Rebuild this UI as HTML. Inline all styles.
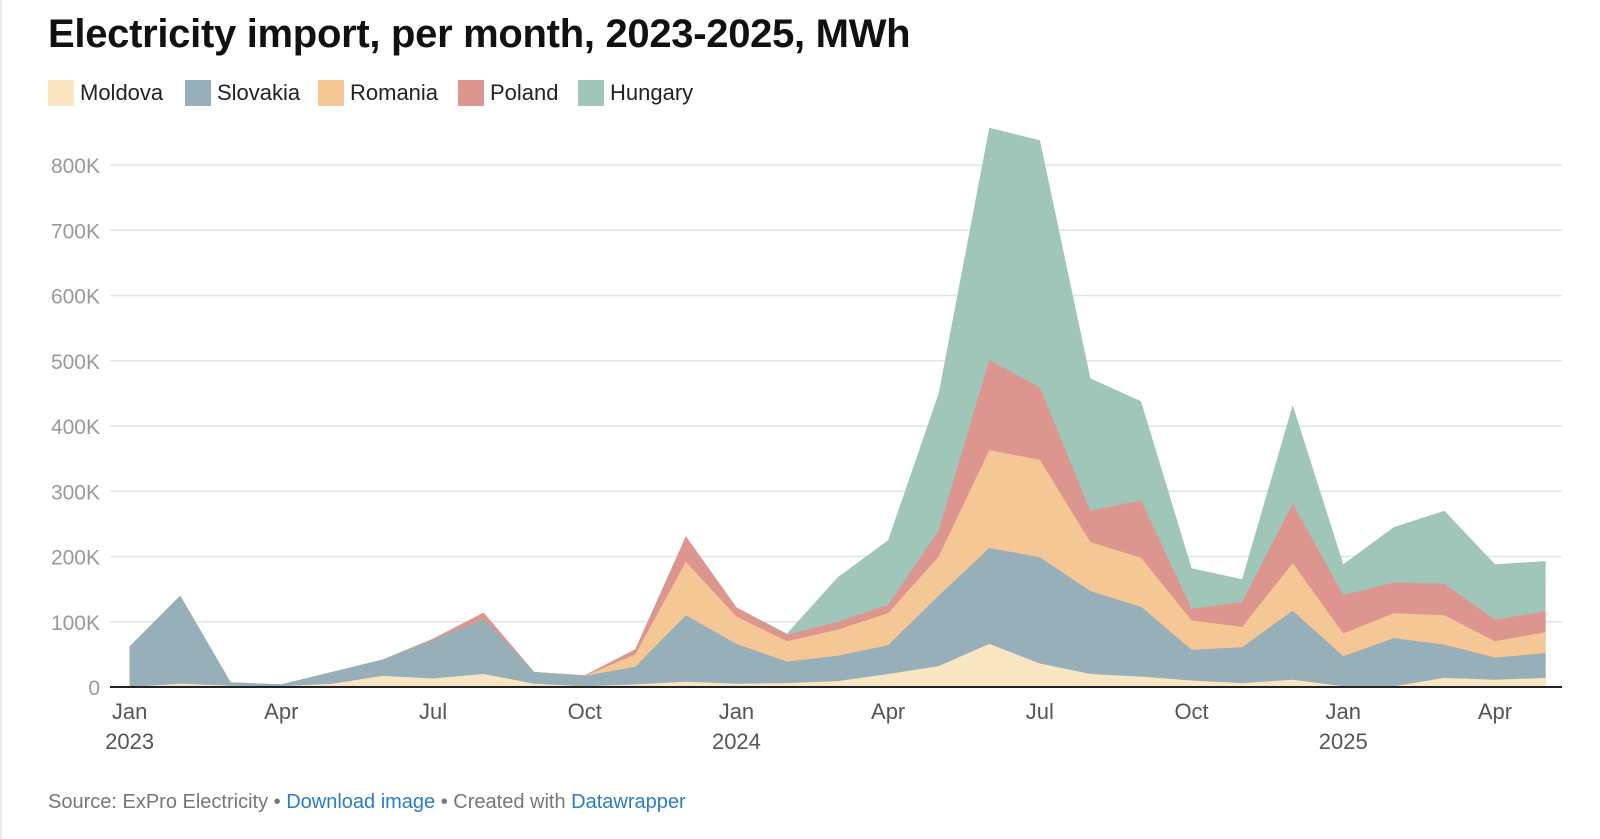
<!DOCTYPE html>
<html><head><meta charset="utf-8"><style>
html,body{margin:0;padding:0;background:#fff;width:1600px;height:839px;overflow:hidden}
svg{display:block;font-family:"Liberation Sans",Arial,sans-serif}
</style></head><body>
<svg id="s" width="1600" height="839" xmlns="http://www.w3.org/2000/svg">
<rect x="0" y="0" width="2" height="839" fill="#e8eef8"/>
<text x="48" y="47" font-size="40" font-weight="bold" fill="#111" letter-spacing="-0.3">Electricity import, per month, 2023-2025, MWh</text>
<g font-size="22" fill="#222">
<rect x="48" y="80" width="26" height="26" fill="#fae5c2"/><text x="80" y="100">Moldova</text>
<rect x="185" y="80" width="26" height="26" fill="#97afb9"/><text x="217" y="100">Slovakia</text>
<rect x="318" y="80" width="26" height="26" fill="#f4c795"/><text x="350" y="100">Romania</text>
<rect x="458" y="80" width="26" height="26" fill="#dc968f"/><text x="490" y="100">Poland</text>
<rect x="578" y="80" width="26" height="26" fill="#9fc6b8"/><text x="610" y="100">Hungary</text>
</g>
<g id="grid"></g>
<g id="areas"></g>
<line x1="110" x2="1562" y1="687" y2="687" stroke="#222" stroke-width="2"/>
<g id="xl" font-size="22" fill="#555" text-anchor="middle"></g>
<text x="48" y="808" font-size="20" fill="#777">Source: ExPro Electricity • <tspan fill="#2a7cc7">Download image</tspan> • Created with <tspan fill="#2a7cc7">Datawrapper</tspan></text>
</svg>
<script>
var NS="http://www.w3.org/2000/svg";
function el(t,a,p,txt){var e=document.createElementNS(NS,t);for(var k in a)e.setAttribute(k,a[k]);if(txt!=null)e.textContent=txt;p.appendChild(e);return e;}
function Y(v){return 687-v*0.6525;}
function X(i){return 129.6+i*50.57;}
var g=document.getElementById('grid');
for(var k=1;k<=8;k++){var y=Y(k*100);el('line',{x1:110,x2:1562,y1:y,y2:y,stroke:'#e3e3e3','stroke-width':1.5},g);
el('text',{x:100,y:y+8,'font-size':21,fill:'#999','text-anchor':'end'},g,k*100+'K');}
el('text',{x:100,y:695,'font-size':21,fill:'#999','text-anchor':'end'},g,'0');
var M=[0,5,2,1,5,17,13,20,5,1,4,8,5,6,9,20,32,66,36,20,16,10,6,11,1,1,14,11,14];
var S=[62,140,7,4,23,42,72,104,23,17,31,110,66,39,48,64,140,213,199,147,123,57,61,117,47,75,65,45,52];
var R=[62,140,7,4,23,42,72,104,23,17,50,192,108,70,88,113,200,363,348,222,198,102,92,190,82,113,110,70,84];
var P=[62,140,7,4,23,42,74,114,23,18,58,231,122,80,100,126,240,501,459,270,286,120,130,281,141,160,158,103,116];
var H=[62,140,7,4,23,42,74,114,23,18,58,231,122,82,168,225,450,857,838,473,438,182,165,432,188,245,270,188,193];
var layers=[[H,'#9fc6b8'],[P,'#dc968f'],[R,'#f4c795'],[S,'#97afb9'],[M,'#fae5c2']];
var a=document.getElementById('areas');
layers.forEach(function(l){var pts=[X(0)+','+687];l[0].forEach(function(v,i){pts.push(X(i).toFixed(1)+','+Y(v).toFixed(1));});pts.push(X(28)+','+687);
el('polygon',{points:pts.join(' '),fill:l[1]},a);});
var xl=document.getElementById('xl');
var labs=['Jan','Apr','Jul','Oct'];
for(var i=0;i<29;i+=3){var x=X(i);el('text',{x:x,y:719},xl,labs[(i/3)%4]);
if(i%12==0)el('text',{x:x,y:749},xl,String(2023+i/12));}
</script>
</body></html>
